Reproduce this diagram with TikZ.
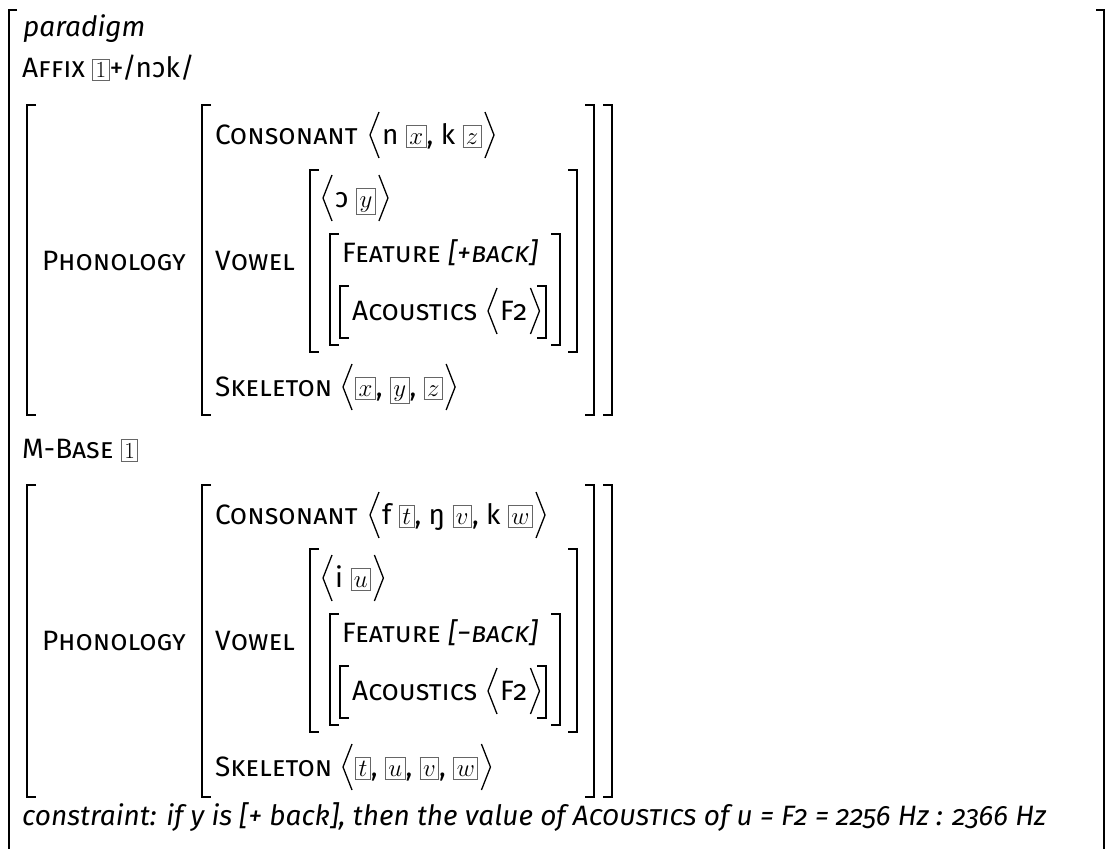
\documentclass[tikz,border=0pt]{standalone}
\usepackage{fontspec}
\setmainfont{Fira Sans}[Numbers=OldStyle]
\newfontfamily\tagfont{Latin Modern Roman}
\newcommand\tg[1]{\begingroup\setlength\fboxsep{2.5pt}\setlength\fboxrule{0.9pt}\fcolorbox{black!60}{white}{\fontsize{23}{23}\selectfont$\vphantom{1}#1$}\endgroup}
\newcommand\tgn[1]{\begingroup\setlength\fboxsep{2.5pt}\setlength\fboxrule{0.9pt}\fcolorbox{black!60}{white}{\fontsize{23}{23}\tagfont #1}\endgroup}
\newcommand\sqb[4]{%
  \draw[br] (#1+9,#3) -| (#1,#4) -- (#1+9,#4);
  \draw[br] (#2-9,#3) -| (#2,#4) -- (#2-9,#4);}
\newcommand\angL[1]{\draw[ang] ([xshift=-3pt,yshift=32pt]#1.base west) -- ++(-9,23) -- ++(9,23);}
\newcommand\angR[1]{\draw[ang] ([xshift=3pt,yshift=32pt]#1.base east) -- ++(9,23) -- ++(-9,23);}
\begin{document}
\begin{tikzpicture}[x=1pt,y=-1pt,
  txt/.style={inner sep=0pt, anchor=base west, font=\fontsize{28}{32}\selectfont},
  br/.style={line width=1.8pt},
  ang/.style={line width=1.3pt, line join=miter}]
\useasboundingbox (0,0) rectangle (1107,848);
% outer bracket
\draw[br] (17,10) -| (9,870);
\draw[br] (1096,10) -| (1104,870);
\node[txt] (pd) at (23,37) {\textit{paradigm}};
\node[txt] (af) at (22,78) {\textsc{Affix} \tgn{1}+/nɔk/};
\node[txt] (mb) at (22,458) {\textsc{M-Base} \tgn{1}};
\node[txt] (cn) at (22,825) {\textit{constraint: if y is [+ back], then the value of \textsc{Acoustics} of u = F2 = 2256 Hz : 2366 Hz}};
% block 1
\sqb{27}{612}{105}{415}
\sqb{202}{594}{105}{415}
\sqb{310}{577}{170}{352}
\sqb{330}{560}{234}{345}
\sqb{340}{546}{286}{338}
\node[txt] (ph1) at (42,270) {\textsc{Phonology}};
\node[txt] (co1) at (215,144) {\textsc{Consonant}};
\node[txt] (cv1) at (382,144) {n \tg{x}, k \tg{z}};
\angL{cv1}\angR{cv1}
\node[txt] (vo1) at (215,270) {\textsc{Vowel}};
\node[txt] (vs1) at (335,207) {ɔ \tg{y}};
\angL{vs1}\angR{vs1}
\node[txt] (fe1) at (342,262) {\textsc{Feature} \textit{[+\textsc{back}]}};
\node[txt] (ac1) at (352,320) {\textsc{Acoustics}};
\node[txt] (av1) at (500,320) {F2};
\angL{av1}\angR{av1}
\node[txt] (sk1) at (215,396) {\textsc{Skeleton}};
\node[txt] (sv1) at (355,396) {\tg{x}, \tg{y}, \tg{z}};
\angL{sv1}\angR{sv1}
% block 2
\sqb{27}{612}{485}{797}
\sqb{202}{594}{485}{797}
\sqb{310}{577}{549}{732}
\sqb{330}{560}{614}{725}
\sqb{340}{546}{666}{718}
\node[txt] (ph2) at (42,650) {\textsc{Phonology}};
\node[txt] (co2) at (215,524) {\textsc{Consonant}};
\node[txt] (cv2) at (382,524) {f \tg{t}, ŋ \tg{v}, k \tg{w}};
\angL{cv2}\angR{cv2}
\node[txt] (vo2) at (215,650) {\textsc{Vowel}};
\node[txt] (vs2) at (335,587) {i \tg{u}};
\angL{vs2}\angR{vs2}
\node[txt] (fe2) at (342,642) {\textsc{Feature} \textit{[−\textsc{back}]}};
\node[txt] (ac2) at (352,700) {\textsc{Acoustics}};
\node[txt] (av2) at (500,700) {F2};
\angL{av2}\angR{av2}
\node[txt] (sk2) at (215,776) {\textsc{Skeleton}};
\node[txt] (sv2) at (355,776) {\tg{t}, \tg{u}, \tg{v}, \tg{w}};
\angL{sv2}\angR{sv2}
\end{tikzpicture}
\end{document}
